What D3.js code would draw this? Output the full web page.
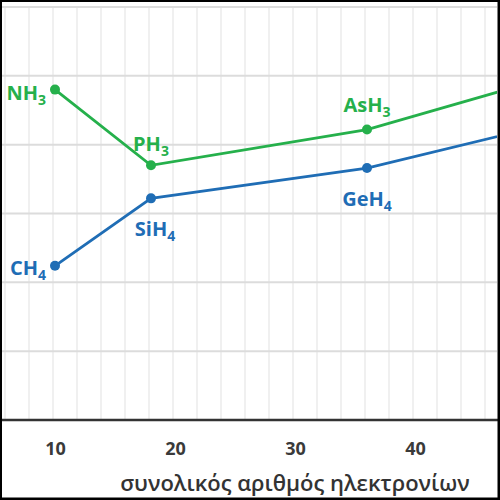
<!DOCTYPE html>
<html>
<head>
<meta charset="utf-8">
<script src="https://cdn.jsdelivr.net/npm/d3@7"></script>
<style>
    html, body { margin: 0; padding: 0; background: #fff; }
    svg { display: block; font-family: "Open Sans", "DejaVu Sans", sans-serif; }
</style>
</head>
<body>
<svg id="chart" width="500" height="500"></svg>
<script>
"use strict";

// total electrons per molecule
const electronsG14 = [10, 18, 36, 54];
const electronsG15 = [10, 18, 36, 54];
// boiling points, K
const boilG14 = [112, 161, 183, 221];
const boilG15 = [240, 185, 211, 256];
// label text: [base, subscript]
const namesG14 = [["CH", "4"], ["SiH", "4"], ["GeH", "4"], ["SnH", "4"]];
const namesG15 = [["NH", "3"], ["PH", "3"], ["AsH", "3"], ["SbH", "3"]];
const xTicks = [10, 20, 30, 40];
const yGrid = [50, 100, 150, 200, 250, 300];
const xMinorGrid = [2, 4, 6, 8, 10, 12, 14, 16, 18, 20, 22, 24, 26, 28, 30, 32, 34, 36, 38, 40, 42, 44, 46, 48];
const xTitle = "συνολικός αριθμός ηλεκτρονίων";

const GREEN = "#25b04b";
const BLUE = "#1f6db5";

const W = 500;
const H = 500;
const plotRight = 497;
const plotTop = 7;
const plotBottom = 420;

const svg = d3.select("#chart");

const x = d3.scaleLinear().domain([10, 40]).range([55, 415]);
const y = d3.scaleLinear().domain([0, 300]).range([plotBottom, plotTop]);

svg.append("defs").append("clipPath").attr("id", "plotClip")
    .append("rect")
    .attr("x", 0).attr("y", 0)
    .attr("width", plotRight).attr("height", plotBottom + 2);

const grid = svg.append("g").attr("clip-path", "url(#plotClip)");

// faint vertical grid
grid.selectAll("line.vgrid").data(xMinorGrid).join("line")
    .attr("class", "vgrid")
    .attr("x1", (d) => x(d) - 2).attr("x2", (d) => x(d) - 2)
    .attr("y1", plotTop).attr("y2", plotBottom)
    .attr("stroke", "#ebebeb").attr("stroke-width", 1.5);

// horizontal grid
grid.selectAll("line.hgrid").data(yGrid).join("line")
    .attr("class", "hgrid")
    .attr("x1", 0).attr("x2", W)
    .attr("y1", (d) => y(d)).attr("y2", (d) => y(d))
    .attr("stroke", "#dcdcdc").attr("stroke-width", 2);

// x axis
const xAxis = d3.axisBottom(x).tickValues(xTicks).tickSize(0).tickPadding(22);
const axisG = svg.append("g")
    .attr("transform", `translate(0,${plotBottom})`)
    .call(xAxis);
axisG.select(".domain").remove();
axisG.selectAll("text")
    .attr("font-size", 18).attr("font-weight", "bold").attr("fill", "#3a3a3a")
    .attr("font-family", "'Open Sans', sans-serif");

svg.append("line")
    .attr("x1", 0).attr("x2", W)
    .attr("y1", plotBottom).attr("y2", plotBottom)
    .attr("stroke", "#333").attr("stroke-width", 2.5);

svg.append("text")
    .attr("x", 295).attr("y", 491)
    .attr("text-anchor", "middle")
    .attr("font-size", 22).attr("font-weight", 600).attr("fill", "#333")
    .text(xTitle);

// series
const series = [
    { color: GREEN, xs: electronsG15, ys: boilG15, names: namesG15,
        // label placement per point: [dx, dy, anchor]
        place: [[-9, 10, "end"], [0, -14, "middle"], [0, -18, "middle"]] },
    { color: BLUE, xs: electronsG14, ys: boilG14, names: namesG14,
        place: [[-9, 9, "end"], [4, 38, "middle"], [0, 38, "middle"]] },
];

const line = d3.line().x((d) => x(d[0])).y((d) => y(d[1]));
const plot = svg.append("g").attr("clip-path", "url(#plotClip)");

series.forEach((s) => {
    const pts = s.xs.map((v, i) => [v, s.ys[i]]);
    plot.append("path")
        .datum(pts)
        .attr("fill", "none")
        .attr("stroke", s.color)
        .attr("stroke-width", 2.8)
        .attr("d", line);
    plot.selectAll(null).data(pts).join("circle")
        .attr("cx", (d) => x(d[0])).attr("cy", (d) => y(d[1]))
        .attr("r", 5)
        .attr("fill", s.color);
    s.place.forEach((p, i) => {
        const t = svg.append("text")
            .attr("x", x(pts[i][0]) + p[0])
            .attr("y", y(pts[i][1]) + p[1])
            .attr("text-anchor", p[2])
            .attr("font-size", 20).attr("font-weight", "bold")
            .attr("fill", s.color);
        t.append("tspan").text(s.names[i][0]);
        t.append("tspan").attr("dy", 5).attr("font-size", 14).text(s.names[i][1]);
    });
});

// frame
svg.append("rect")
    .attr("x", 0.75).attr("y", 0.75)
    .attr("width", W - 2).attr("height", H - 2)
    .attr("fill", "none").attr("stroke", "#000").attr("stroke-width", 2.5);
</script>
</body>
</html>
